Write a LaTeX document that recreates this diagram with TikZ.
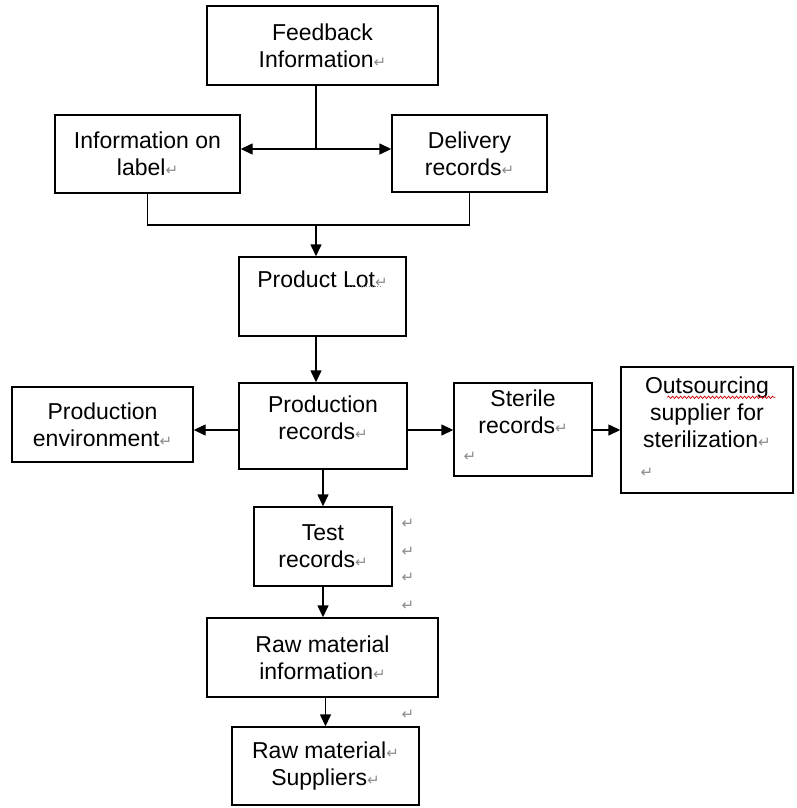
\documentclass[tikz,border=0pt]{standalone}
\usepackage{fontspec}
\setmainfont{Liberation Sans}
\newfontfamily\pmfont{DejaVu Sans}
\usetikzlibrary{arrows.meta,decorations.pathmorphing}
\newcommand\pmk{{\pmfont\color{black!45}\fontsize{15}{15}\selectfont ↵}}
\begin{document}
\begin{tikzpicture}[x=1pt,y=-1pt,
  box/.style={draw=black,line width=1.4pt,fill=white,align=center,inner sep=0pt,
    font=\fontsize{23}{27}\selectfont},
  pm/.style={inner sep=0pt,font=\pmfont\fontsize{15}{15}\selectfont,text=black!45},
  link/.style={line width=1.4pt},
  arr/.style={line width=1.4pt,-{Triangle[length=12pt,width=11pt]}}]
\useasboundingbox[fill=white] (0,0) rectangle (796,808);

\node[box,minimum width=231pt,minimum height=79pt] (fb) at (322.5,45.5) {Feedback\\Information\pmk};
\node[box,minimum width=185pt,minimum height=78pt] (lab) at (147.5,154) {Information on\\label\pmk};
\node[box,minimum width=155pt,minimum height=77pt] (del) at (469.5,153.5) {Delivery\\records\pmk};
\node[box,minimum width=167pt,minimum height=79pt] (lot) at (322.5,296.5) {Product Lot\pmk\\\strut};
\node[box,minimum width=168pt,minimum height=86pt] (prod) at (323,426) {Production\\records\pmk\\[-18pt]\strut};
\node[box,minimum width=181pt,minimum height=75pt] (env) at (102.5,424.5) {Production\\environment\pmk};
\node[box,minimum width=138pt,minimum height=93pt] (ster) at (523,429.5) {Sterile\\records\pmk\\\strut};
\node[box,minimum width=172pt,minimum height=126pt] (out) at (707,430) {Outsourcing\\supplier for\\sterilization\pmk\\\strut};
\node[box,minimum width=138pt,minimum height=79pt] (test) at (323,546.5) {Test\\records\pmk};
\node[box,minimum width=231pt,minimum height=79pt] (rmi) at (322.5,657.5) {Raw material\\information\pmk};
\node[box,minimum width=187pt,minimum height=78pt] (rms) at (325.5,766) {Raw material\pmk\\Suppliers\pmk};

% stray paragraph marks
\node[pm] (p1) at (470,457) {↵};
\node[pm] (p2) at (647,473) {↵};
\node[pm] (p3) at (408,524) {↵};
\node[pm] (p4) at (408,552) {↵};
\node[pm] (p5) at (408,578) {↵};
\node[pm] (p6) at (408,606) {↵};
\node[pm] (p7) at (408,715) {↵};

% spell-check marks
\draw[red!80!black,line width=0.7pt,decorate,decoration={snake,amplitude=1.2pt,segment length=4pt}] (out.north west)++(47,31) -- ++(108,0);
\draw[black!50,line width=0.8pt,dotted] (lot.north west)++(111,30) -- ++(32,0);

% connectors
\coordinate (j1) at (316,149);
\coordinate (j2) at (316,225);
\draw[link] (fb.south -| j1) -- (j1);
\draw[arr] (j1) -- (lab.east |- j1);
\draw[arr] (j1) -- (del.west |- j1);
\draw[link] (lab.south) -- (lab.south |- j2) -- (del.south |- j2) -- (del.south);
\draw[arr] (j2) -- (j2 |- lot.north);
\draw[arr] (lot.south -| j1) -- (prod.north -| j1);
\coordinate (j3) at (323,430);
\draw[arr] (prod.west |- j3) -- (env.east |- j3);
\draw[arr] (prod.east |- j3) -- (ster.west |- j3);
\draw[arr] (ster.east |- j3) -- (out.west |- j3);
\draw[arr] (prod.south) -- (test.north);
\draw[arr] (test.south) -- (rmi.north -| test.south);
\draw[arr] (rmi.south -| rms.north) -- (rms.north);
\end{tikzpicture}
\end{document}
